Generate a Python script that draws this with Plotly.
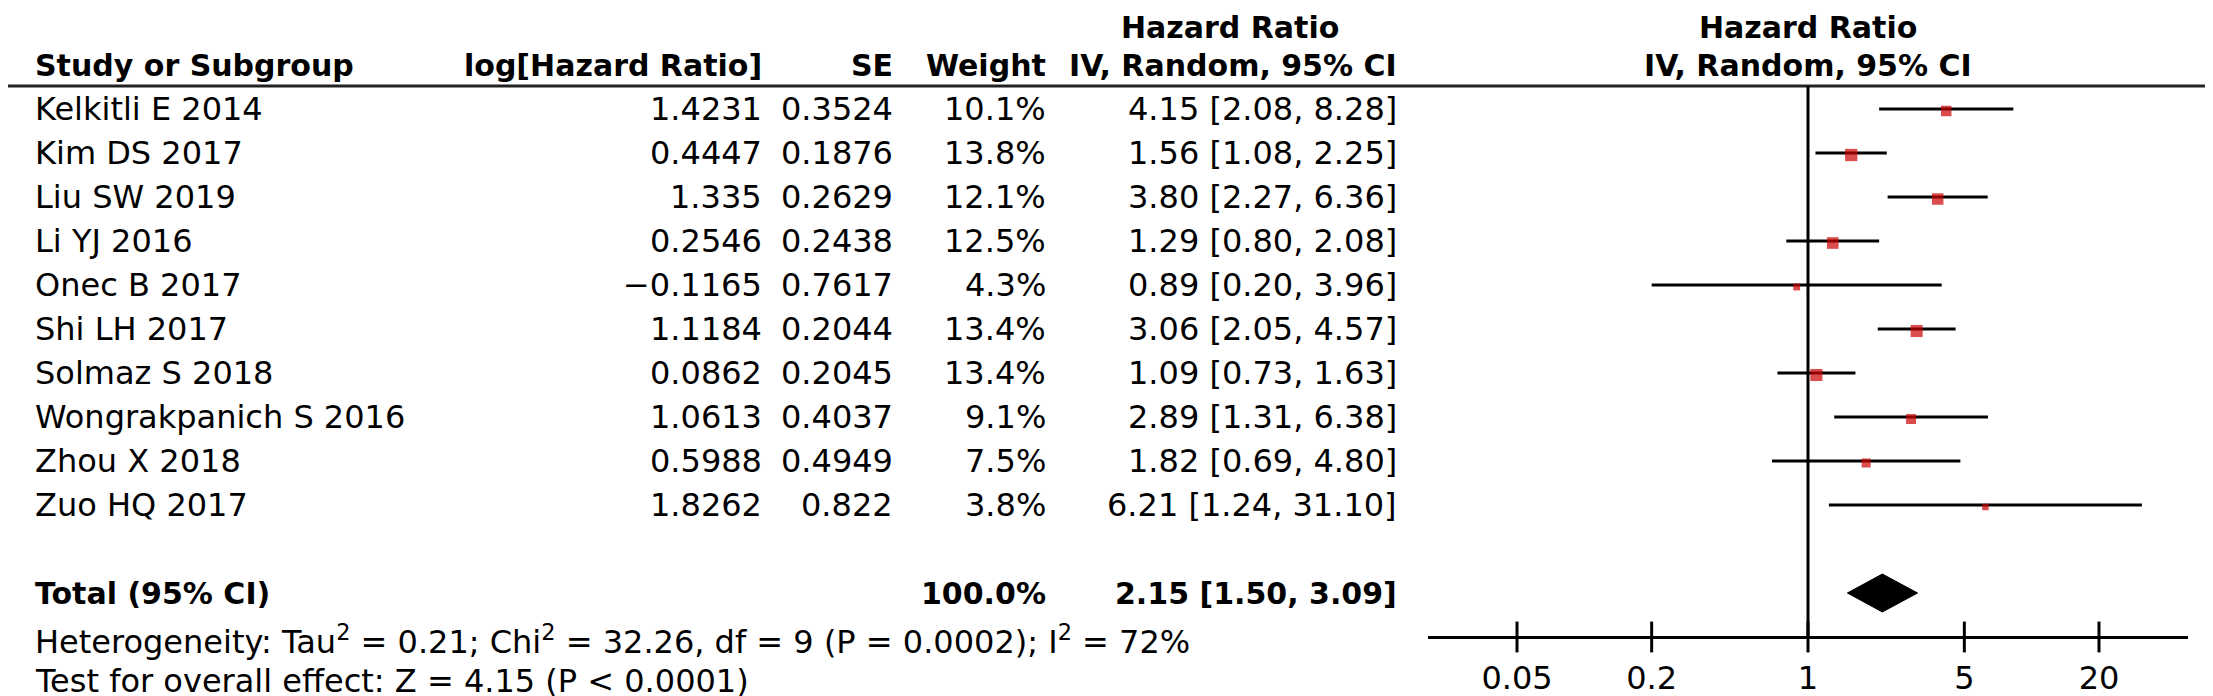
import math
import plotly.graph_objects as go

# ---------------- data ----------------
studies = ["Kelkitli E 2014", "Kim DS 2017", "Liu SW 2019", "Li YJ 2016", "Onec B 2017",
           "Shi LH 2017", "Solmaz S 2018", "Wongrakpanich S 2016", "Zhou X 2018", "Zuo HQ 2017"]
log_hr = ["1.4231", "0.4447", "1.335", "0.2546", "-0.1165", "1.1184", "0.0862", "1.0613", "0.5988", "1.8262"]
se = ["0.3524", "0.1876", "0.2629", "0.2438", "0.7617", "0.2044", "0.2045", "0.4037", "0.4949", "0.822"]
weight = [10.1, 13.8, 12.1, 12.5, 4.3, 13.4, 13.4, 9.1, 7.5, 3.8]
hr = [4.15, 1.56, 3.80, 1.29, 0.89, 3.06, 1.09, 2.89, 1.82, 6.21]
ci_lo = [2.08, 1.08, 2.27, 0.80, 0.20, 2.05, 0.73, 1.31, 0.69, 1.24]
ci_hi = [8.28, 2.25, 6.36, 2.08, 3.96, 4.57, 1.63, 6.38, 4.80, 31.10]
total_weight = 100.0
total_hr = 2.15
total_lo = 1.50
total_hi = 3.09
tick_vals = [0.05, 0.2, 1, 5, 20]
tick_text = ["0.05", "0.2", "1", "5", "20"]
axis_min, axis_max = 0.02, 50
heterogeneity = "Heterogeneity: Tau<sup>2</sup> = 0.21; Chi<sup>2</sup> = 32.26, df = 9 (P = 0.0002); I<sup>2</sup> = 72%"
overall = "Test for overall effect: Z = 4.15 (P < 0.0001)"

# ---------------- layout constants (pixels) ----------------
W, H = 2213, 696
FONT = "DejaVu Sans"
FS = 32
FSB = 30
row0, pitch = 101, 44.0
rule_y = 78
axis_y = 629
total_y = 585
het_y = 632
test_y = 673
hdr1_y, hdr2_y = 19, 57
x_name, x_log, x_se, x_w, x_ci = 25, 756, 887, 1040, 1391
plot_x0, plot_x1 = 1420, 2180

row_y = [row0 + pitch * i for i in range(len(studies))]

fig = go.Figure()

# CI lines
xs, ys = [], []
for lo, hi, y in zip(ci_lo, ci_hi, row_y):
    xs += [lo, hi, None]
    ys += [y, y, None]
fig.add_trace(go.Scatter(x=xs, y=ys, mode="lines", line=dict(color="black", width=3),
                         hoverinfo="skip", showlegend=False))
# squares
fig.add_trace(go.Scatter(x=hr, y=[y + 2 for y in row_y], mode="markers",
                         marker=dict(symbol="square", color="#CC0000",
                                     size=[3.3 * math.sqrt(w) for w in weight], line=dict(width=0)),
                         showlegend=False))
# diamond
dh = 19
fig.add_trace(go.Scatter(x=[total_lo, total_hr, total_hi, total_hr, total_lo],
                         y=[total_y, total_y - dh, total_y, total_y + dh, total_y],
                         mode="lines", fill="toself", fillcolor="black",
                         line=dict(color="black", width=1), showlegend=False))
# crossing tick marks
fig.add_trace(go.Scatter(x=tick_vals, y=[axis_y] * len(tick_vals), mode="markers",
                         marker=dict(symbol="line-ns", size=22, line=dict(color="black", width=3)),
                         showlegend=False, hoverinfo="skip"))

# shapes: header rule, line of no effect
fig.add_shape(type="line", xref="paper", yref="y", x0=0, x1=1, y0=rule_y, y1=rule_y,
              line=dict(color="#222", width=3))
fig.add_shape(type="line", xref="x", yref="y", x0=1, x1=1, y0=rule_y, y1=axis_y,
              line=dict(color="black", width=3))

ann = []


def txt(x, y, s, anchor, bold=False):
    ann.append(dict(xref="paper", yref="y", x=x / W, y=y, text=("<b>%s</b>" % s) if bold else s,
                    xanchor=anchor, yanchor="middle", showarrow=False,
                    font=dict(family=FONT, size=FSB if bold else FS, color="black")))


# headers
txt(x_name, hdr2_y, "Study or Subgroup", "left", True)
txt(x_log, hdr2_y, "log[Hazard Ratio]", "right", True)
txt(x_se, hdr2_y, "SE", "right", True)
txt(x_w, hdr2_y, "Weight", "right", True)
txt(1222, hdr1_y, "Hazard Ratio", "center", True)
txt(x_ci, hdr2_y, "IV, Random, 95% CI", "right", True)
txt(1800, hdr1_y, "Hazard Ratio", "center", True)
txt(1800, hdr2_y, "IV, Random, 95% CI", "center", True)

# rows
for i, y in enumerate(row_y):
    txt(x_name, y, studies[i], "left")
    txt(x_log, y, log_hr[i].replace("-", "\u2212"), "right")
    txt(x_se, y, se[i], "right")
    txt(x_w, y, "%.1f%%" % weight[i], "right")
    txt(x_ci, y, "%.2f [%.2f, %.2f]" % (hr[i], ci_lo[i], ci_hi[i]), "right")

# total
txt(x_name, total_y, "Total (95% CI)", "left", True)
txt(x_w, total_y, "%.1f%%" % total_weight, "right", True)
txt(x_ci, total_y, "%.2f [%.2f, %.2f]" % (total_hr, total_lo, total_hi), "right", True)
txt(x_name, het_y, heterogeneity, "left")
txt(x_name, test_y, overall, "left")

fig.update_layout(
    width=W, height=H, margin=dict(l=0, r=0, t=0, b=0),
    paper_bgcolor="white", plot_bgcolor="white",
    annotations=ann, showlegend=False,
    xaxis=dict(type="log", range=[math.log10(axis_min), math.log10(axis_max)],
               domain=[plot_x0 / W, plot_x1 / W], anchor="free", position=(H - axis_y) / H,
               showline=True, linecolor="black", linewidth=3, showgrid=False, zeroline=False,
               tickvals=tick_vals, ticktext=tick_text, ticks="outside", ticklen=12,
               tickcolor="rgba(0,0,0,0)", tickfont=dict(family=FONT, size=FS, color="black")),
    yaxis=dict(range=[H, 0], domain=[0, 1], visible=False, showgrid=False, zeroline=False),
)

fig.write_html("out.html")
